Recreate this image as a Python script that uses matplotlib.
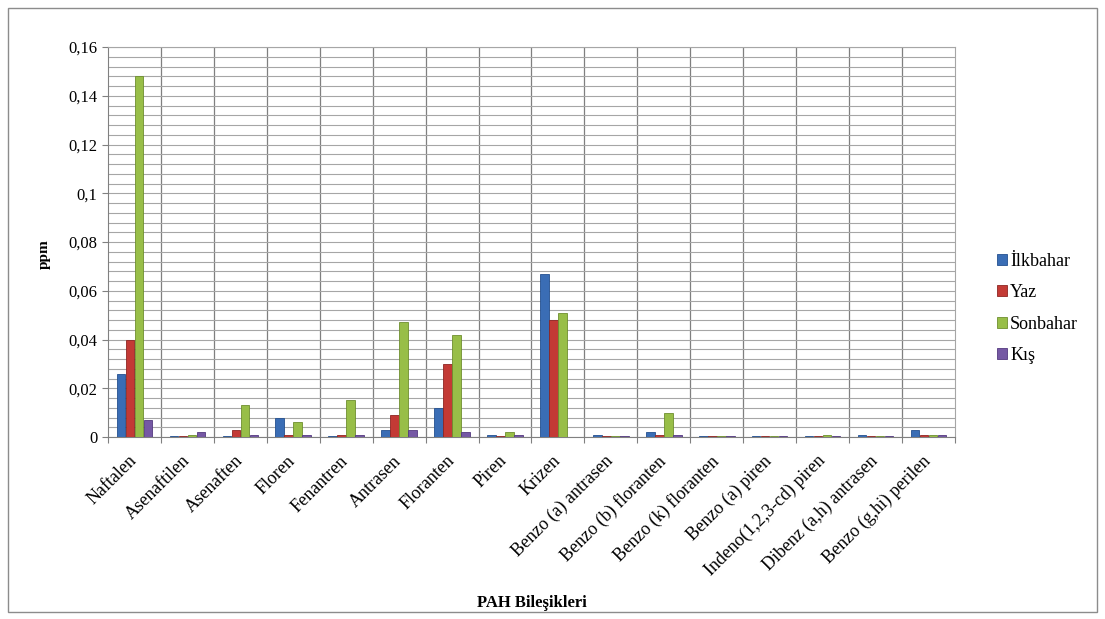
import numpy as np
import matplotlib
matplotlib.use("Agg")
import matplotlib.pyplot as plt
from matplotlib.ticker import MultipleLocator, FuncFormatter, NullFormatter
from matplotlib.patches import Rectangle

plt.rcParams['font.family'] = ['Liberation Serif', 'DejaVu Serif']

# ------------------------------------------------------------------
# Données (ppm)
# ------------------------------------------------------------------
bilesikler = ['Naftalen', 'Asenaftilen', 'Asenaften', 'Floren', 'Fenantren',
              'Antrasen', 'Floranten', 'Piren', 'Krizen', 'Benzo (a) antrasen',
              'Benzo (b) floranten', 'Benzo (k) floranten', 'Benzo (a) piren',
              'Indeno(1,2,3-cd) piren', 'Dibenz (a,h) antrasen', 'Benzo (g,hi) perilen']

ilkbahar = [0.026, 0.0005, 0.0005, 0.008, 0.0005, 0.003, 0.012, 0.001,
            0.067, 0.001, 0.002, 0.0005, 0.0005, 0.0005, 0.001, 0.003]
yaz      = [0.040, 0.0005, 0.003, 0.001, 0.001, 0.009, 0.030, 0.0005,
            0.048, 0.0005, 0.001, 0.0005, 0.0005, 0.0005, 0.0005, 0.001]
sonbahar = [0.148, 0.001, 0.013, 0.006, 0.015, 0.047, 0.042, 0.002,
            0.051, 0.0005, 0.010, 0.0005, 0.0005, 0.001, 0.0005, 0.001]
kis      = [0.007, 0.002, 0.001, 0.001, 0.001, 0.003, 0.002, 0.001,
            0.0, 0.0005, 0.001, 0.0005, 0.0005, 0.0005, 0.0005, 0.001]

seriler = [('İlkbahar', ilkbahar, '#3A6DB5', '#24508F'),
           ('Yaz', yaz, '#C33A35', '#8E2522'),
           ('Sonbahar', sonbahar, '#98BE48', '#6E8F2E'),
           ('Kış', kis, '#7558A4', '#54397F')]

# ------------------------------------------------------------------
# Tracé
# ------------------------------------------------------------------
fig = plt.figure(figsize=(11.05, 6.19), dpi=100)
ax = fig.add_axes([0.0977, 0.294, 0.7665, 0.630])

n = len(bilesikler)
x = np.arange(n)
w = 0.17
for i, (nom, vals, c, ec) in enumerate(seriler):
    ax.bar(x - 0.34 + i * w + w / 2, vals, width=w * 0.95, color=c,
           edgecolor=ec, linewidth=0.6, label=nom, zorder=3)

ax.set_xlim(-0.5, n - 0.5)
ax.set_ylim(0, 0.16)
ax.yaxis.set_major_locator(MultipleLocator(0.02))
ax.yaxis.set_minor_locator(MultipleLocator(0.004))
ax.yaxis.set_major_formatter(FuncFormatter(
    lambda v, p: '0' if abs(v) < 1e-9 else ('%g' % round(v, 3)).replace('.', ',')))

ax.grid(axis='y', which='both', color='#A6A6A6', linewidth=0.8, zorder=0)
for b in np.arange(0.5, n - 0.5, 1):
    ax.axvline(b, color='#7F7F7F', linewidth=0.9, zorder=1)

# graduations aux frontières des catégories, étiquettes légèrement décalées
ax.set_xticks(np.arange(-0.5, n, 1))
ax.xaxis.set_major_formatter(NullFormatter())
ax.set_xticks(x - 0.12, minor=True)
ax.set_xticklabels(bilesikler, minor=True, rotation=45, ha='right',
                   rotation_mode='anchor', fontsize=13)
ax.tick_params(axis='x', which='major', length=4, color='#808080')
ax.tick_params(axis='x', which='minor', length=0, pad=11)

ax.tick_params(axis='y', labelsize=12, length=4, color='#808080')
ax.tick_params(axis='y', which='minor', length=0)

for s in ['top', 'right']:
    ax.spines[s].set_visible(True)
    ax.spines[s].set_color('#A6A6A6')
for s in ['left', 'bottom']:
    ax.spines[s].set_color('#808080')

ax.set_ylabel('ppm', fontsize=11, fontweight='bold')
ax.set_xlabel('PAH Bileşikleri', fontsize=12, fontweight='bold')
ax.xaxis.set_label_coords(0.5, -0.405)
ax.yaxis.set_label_coords(-0.068, 0.47)

leg = ax.legend(loc='center left', bbox_to_anchor=(1.03, 0.33), frameon=False,
                fontsize=13, handlelength=0.55, handleheight=0.55,
                handletextpad=0.2, labelspacing=0.8)

fig.patches.append(Rectangle((0.007, 0.011), 0.986, 0.976, transform=fig.transFigure,
                             fill=False, edgecolor='#8C8C8C', linewidth=1))

fig.savefig('out.png', dpi=100)
